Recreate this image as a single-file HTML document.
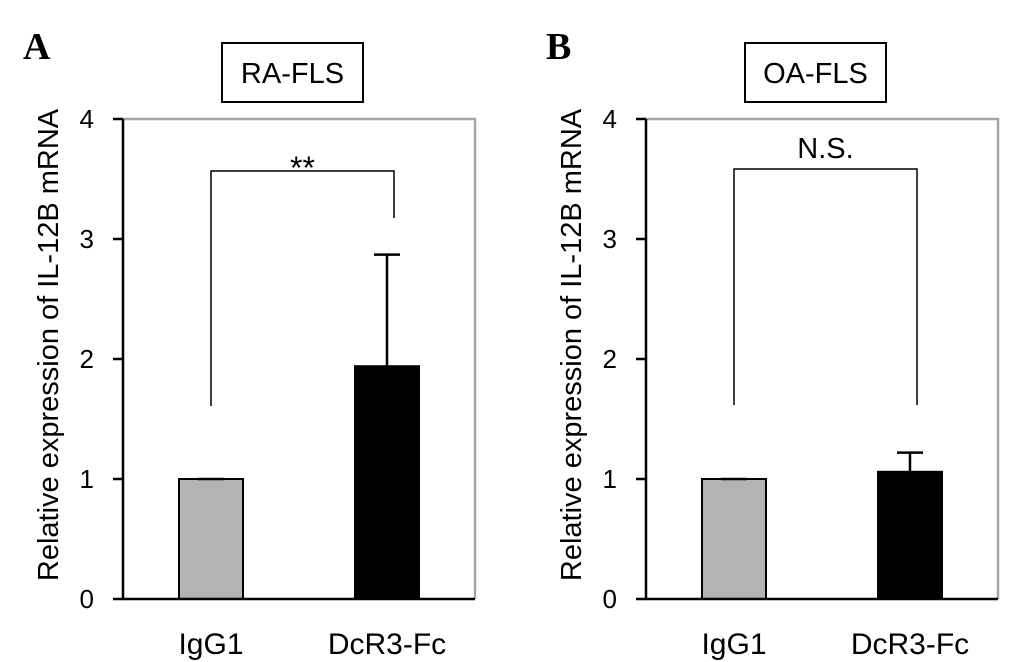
<!DOCTYPE html>
<html><head><meta charset="utf-8"><style>
html,body{margin:0;padding:0;background:#fff;}
svg{display:block;font-family:"Liberation Sans",Arial,sans-serif;}
</style></head><body>
<svg id="fig" width="1033" height="662" viewBox="0 0 1033 662"></svg>
<script>
const categories = ["IgG1", "DcR3-Fc"];
const raValues = [1.0, 1.94];
const raErrors = [0.0, 0.93];
const oaValues = [1.0, 1.06];
const oaErrors = [0.0, 0.16];
const yTicks = [0, 1, 2, 3, 4];
const panelTitles = ["RA-FLS", "OA-FLS"];
const panelLetters = ["A", "B"];
const sigLabels = ["**", "N.S."];

const NS = "http://www.w3.org/2000/svg";
const svg = document.getElementById("fig");
function mk(tag, attrs, parent) {
  const e = document.createElementNS(NS, tag);
  for (const k in attrs) e.setAttribute(k, attrs[k]);
  (parent || svg).appendChild(e);
  return e;
}
const fills = ["#b3b3b3", "#000000"];
const panels = [
  {x0: 123, vals: raValues, errs: raErrors, brTop: 171, brL: 406, brR: 218},
  {x0: 646, vals: oaValues, errs: oaErrors, brTop: 169, brL: 405, brR: 405}
];
const W = 352, y0 = 599, yMax = 4, H = 480;
panels.forEach((p, pi) => {
  const g = mk("g", {});
  
  
  const yS = v => y0 - v / yMax * H;
  const xS = i => p.x0 + W * (0.25 + 0.5 * i);
  const fr = mk("path", {d: `M${p.x0} ${yS(4)} H${p.x0 + W} V${y0}`, fill: "none", stroke: "#a6a6a6", "stroke-width": 2.5}, g);
  
  
  p.vals.forEach((v, i) => {
    const bw = 64;
    const b = mk("rect", {x: xS(i) - bw / 2, y: yS(v), width: bw, height: y0 - yS(v), fill: fills[i], stroke: "#000", "stroke-width": 2}, g);
    
    
    const e = p.errs[i];
    const eg = mk("path", {d: `M${xS(i)} ${yS(v)} V${yS(v + e)} M${xS(i) - 13} ${yS(v + e)} H${xS(i) + 13}`, stroke: "#000", "stroke-width": 2.5, fill: "none"}, g);
    
    
    const t = mk("text", {x: xS(i), y: 654, "text-anchor": "middle", "font-size": 30}, g);
    t.textContent = categories[i];
    
    
  });
  const ax = mk("path", {d: `M${p.x0} ${yS(4)} V${y0} H${p.x0 + W}`, fill: "none", stroke: "#000", "stroke-width": 2.5}, g);
  
  
  yTicks.forEach(v => {
    const tk = mk("line", {x1: p.x0 - 10, x2: p.x0, y1: yS(v), y2: yS(v), stroke: "#000", "stroke-width": 2.5}, g);
    
    
    const tl = mk("text", {x: p.x0 - 29, y: yS(v) + 9, "text-anchor": "end", "font-size": 26}, g);
    tl.textContent = v;
    
    
  });
  const yt = mk("text", {transform: `translate(${p.x0 - 65},345) rotate(-90)`, "text-anchor": "middle", "font-size": 29}, g);
  yt.textContent = "Relative expression of IL-12B mRNA";
  
  
  const bx1 = xS(0), bx2 = xS(1) + 7;
  const br = mk("path", {d: `M${bx1} ${p.brL} V${p.brTop} H${bx2} V${p.brR}`, fill: "none", stroke: "#000", "stroke-width": 1.5}, g);
  
  
  const st = mk("text", {x: (bx1 + bx2) / 2, y: pi === 0 ? p.brTop + 8 : p.brTop - 11, "text-anchor": "middle", "font-size": pi === 0 ? 32 : 29}, g);
  st.textContent = sigLabels[pi];
  
  
  const tb = mk("rect", {x: p.x0 + 99, y: 43, width: 141, height: 59, fill: "#fff", stroke: "#000", "stroke-width": 2}, g);
  
  
  const tt = mk("text", {x: p.x0 + 169.5, y: 83, "text-anchor": "middle", "font-size": 29}, g);
  tt.textContent = panelTitles[pi];
  
  
  const pl = mk("text", {x: p.x0 - 100, y: 59, "font-size": 38, "font-weight": "bold", "font-family": "Liberation Serif, serif"}, g);
  pl.textContent = panelLetters[pi];
  
  
});
</script>
</body></html>
